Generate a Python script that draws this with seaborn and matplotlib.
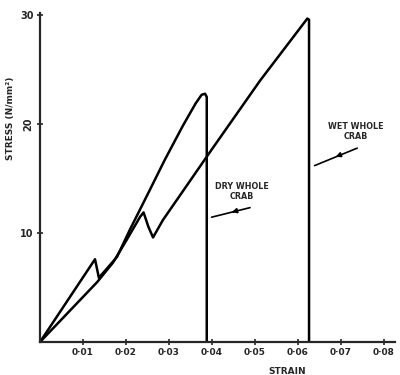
import matplotlib
matplotlib.use("Agg")
import pandas as pd
import matplotlib.pyplot as plt
import matplotlib.transforms as mtransforms
import seaborn as sns

# curves
dry_strain = [0, 0.0128, 0.0137, 0.0179, 0.0209, 0.0256, 0.0290, 0.0333, 0.0362, 0.0376, 0.0384, 0.0388, 0.0388]
dry_stress = [0, 7.6, 5.9, 7.8, 10.3, 14.0, 16.7, 19.9, 21.9, 22.7, 22.8, 22.5, 0]

wet_strain = [0, 0.0133, 0.0170, 0.0202, 0.0233, 0.0241, 0.0252, 0.0263, 0.0286, 0.0400, 0.0512, 0.0622, 0.0626, 0.0626]
wet_stress = [0, 5.5, 7.3, 9.4, 11.5, 11.9, 10.6, 9.6, 11.2, 17.7, 24.0, 29.7, 29.6, 0]

x_ticks = [0.01, 0.02, 0.03, 0.04, 0.05, 0.06, 0.07, 0.08]
x_ticklabels = ["0·01", "0·02", "0·03", "0·04", "0·05", "0·06", "0·07", "0·08"]
y_ticks = [10, 20, 30]
y_ticklabels = ["10", "20", "30"]

dry = pd.DataFrame({"strain": dry_strain, "stress": dry_stress})
wet = pd.DataFrame({"strain": wet_strain, "stress": wet_stress})

sns.set_style("ticks")
plt.rcParams['font.family'] = ['DejaVu Sans']

fig = plt.figure(figsize=(4, 3.75), dpi=100)
ax = fig.add_axes([0.10, 0.088, 0.8875, 0.877])

for d in (dry, wet):
    sns.lineplot(data=d, x="strain", y="stress", sort=False, estimator=None,
                 color="black", lw=1.8, ax=ax)
for ln in ax.lines:
    ln.set_solid_joinstyle("round")
    ln.set_solid_capstyle("round")

ax.set_xlim(0, 0.0826)
ax.set_ylim(0, 30.2)
sns.despine(ax=ax)
for s in ("left", "bottom"):
    ax.spines[s].set_linewidth(1.6)

ax.set_xticks(x_ticks)
ax.set_xticklabels(x_ticklabels, fontsize=6.5, fontweight="bold")
ax.set_yticks(y_ticks)
# the "20" on the original is printed sideways, so draw it by hand
ax.set_yticklabels([t if i != 1 else "" for i, t in enumerate(y_ticklabels)],
                   fontsize=7, fontweight="bold")
ax.tick_params(direction="inout", length=5, width=1.2, pad=2)
trans = mtransforms.blended_transform_factory(ax.transAxes, ax.transData)
ax.text(-0.018, y_ticks[1], y_ticklabels[1], transform=trans, rotation=90,
        ha="right", va="center", fontsize=7, fontweight="bold")

ax.set_xlabel("STRAIN", fontsize=6.5, fontweight="bold")
ax.xaxis.set_label_coords(0.696, -0.075)
ax.set_ylabel("STRESS (N/mm²)", fontsize=6.5, fontweight="bold")
ax.yaxis.set_label_coords(-0.07, 0.68)

# labels with old style arrows (head in the middle of the leader)
ax.text(0.0735, 19.3, "WET WHOLE\nCRAB", fontsize=5.8, fontweight="bold",
        ha="center", va="center", linespacing=1.1)
ax.annotate("", xy=(0.0633, 16.1), xytext=(0.0744, 17.9),
            arrowprops=dict(arrowstyle="-", color="black", lw=1.2))
ax.annotate("", xy=(0.0682, 16.9), xytext=(0.0700, 17.2),
            arrowprops=dict(arrowstyle="-|>", color="black", lw=1.2, mutation_scale=7))

ax.text(0.0470, 13.8, "DRY WHOLE\nCRAB", fontsize=5.8, fontweight="bold",
        ha="center", va="center", linespacing=1.1)
ax.annotate("", xy=(0.0393, 11.4), xytext=(0.0495, 12.4),
            arrowprops=dict(arrowstyle="-", color="black", lw=1.2))
ax.annotate("", xy=(0.0440, 11.85), xytext=(0.0458, 12.05),
            arrowprops=dict(arrowstyle="-|>", color="black", lw=1.2, mutation_scale=7))

fig.savefig("out.png", dpi=100)
